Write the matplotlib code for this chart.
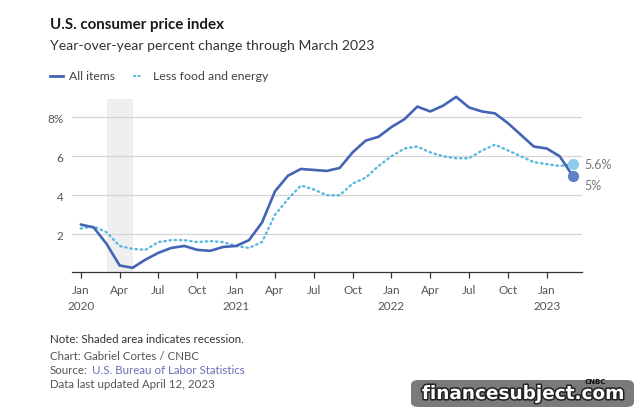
import matplotlib

matplotlib.use("Agg")

import matplotlib.pyplot as plt
from matplotlib.patches import FancyBboxPatch
import matplotlib.patheffects as pe

plt.rcParams["font.family"] = ["Lato", "DejaVu Sans"]

# monthly year-over-year change, Jan 2020 .. Mar 2023
all_items = [
    2.5, 2.35, 1.5, 0.4, 0.28, 0.7, 1.05, 1.3, 1.4, 1.2, 1.15, 1.35,
    1.4, 1.7, 2.6, 4.2, 5.0, 5.35, 5.3, 5.25, 5.4, 6.2, 6.8, 7.0,
    7.5, 7.9, 8.55, 8.3, 8.6, 9.05, 8.5, 8.3, 8.2, 7.7, 7.1, 6.5,
    6.4, 6.0, 5.0,
]
core = [
    2.3, 2.4, 2.1, 1.4, 1.25, 1.2, 1.6, 1.7, 1.7, 1.6, 1.65, 1.6,
    1.4, 1.3, 1.6, 3.0, 3.8, 4.5, 4.3, 4.0, 4.0, 4.6, 4.9, 5.5,
    6.0, 6.4, 6.5, 6.2, 6.0, 5.9, 5.9, 6.3, 6.6, 6.3, 6.0, 5.7,
    5.6, 5.5, 5.6,
]
months = list(range(len(all_items)))
tick_months = list(range(0, 37, 3))
tick_labels = [
    "Jan\n2020", "Apr", "Jul", "Oct",
    "Jan\n2021", "Apr", "Jul", "Oct",
    "Jan\n2022", "Apr", "Jul", "Oct",
    "Jan\n2023",
]
y_ticks = [2, 4, 6, 8]
y_labels = ["2", "4", "6", "8%"]
recession = (2, 4)

BLUE = "#4464b4"
LIGHT = "#5ab8de"
GREY_TXT = "#555555"

fig = plt.figure(figsize=(6.38, 4.14), dpi=100)
ax = fig.add_axes([0.1124, 0.3413, 0.7994, 0.4172])

ax.axvspan(*recession, color="#efefef", lw=0, zorder=0)
for y in y_ticks:
    ax.axhline(y, color="#d4d4d4", lw=0.9, zorder=1)

ax.plot(months, core, color=LIGHT, lw=1.7, ls=(0, (0.6, 1.6)),
        dash_capstyle="round", zorder=3, clip_on=False)
ax.plot(months, all_items, color=BLUE, lw=1.9, solid_joinstyle="round",
        solid_capstyle="round", zorder=4, clip_on=False)
ax.scatter([months[-1]], [core[-1]], s=50, color="#8fcbec", zorder=5, clip_on=False)
ax.scatter([months[-1]], [all_items[-1]], s=50, color="#6180c8", zorder=6, clip_on=False)
ax.text(months[-1] + 0.9, core[-1], f"{core[-1]:g}%", color="#777777",
        fontsize=9, va="center", ha="left")
ax.text(months[-1] + 0.9, all_items[-1] - 0.45, f"{all_items[-1]:g}%", color="#777777",
        fontsize=9, va="center", ha="left")

ax.set_xlim(-0.7, 38.7)
ax.set_ylim(0.08, 8.94)
ax.set_xticks(tick_months)
ax.set_xticklabels(tick_labels, fontsize=8.5, color=GREY_TXT, linespacing=1.55)
ax.set_yticks(y_ticks)
ax.set_yticklabels(y_labels, fontsize=8.5, color=GREY_TXT)
ax.tick_params(axis="x", length=4, width=0.9, color="#333333", pad=5)
ax.tick_params(axis="y", length=0, pad=6)
for side in ["top", "right", "left"]:
    ax.spines[side].set_visible(False)
ax.spines["bottom"].set_color("#333333")
ax.spines["bottom"].set_linewidth(0.9)

# titles and legend
fig.text(50 / 638, 1 - 25 / 414, "U.S. consumer price index", fontsize=10.9,
         fontweight="bold", color="#1a1a1a", va="center")
fig.text(50 / 638, 1 - 46 / 414, "Year-over-year percent change through March 2023",
         fontsize=10.1, color="#333333", va="center")
ly = 1 - 77 / 414
fig.lines.append(plt.Line2D([50 / 638, 63 / 638], [ly, ly], transform=fig.transFigure,
                            color=BLUE, lw=2.0))
fig.text(69 / 638, ly, "All items", fontsize=8.7, color="#444444", va="center")
fig.lines.append(plt.Line2D([134 / 638, 143 / 638], [ly, ly], transform=fig.transFigure,
                            color=LIGHT, lw=1.5, ls=(0, (0.6, 1.6)), dash_capstyle="round"))
fig.text(153 / 638, ly, "Less food and energy", fontsize=8.9, color="#444444", va="center")

# footnotes
fs = 8.3
fig.text(50 / 638, 1 - 340 / 414, "Note: Shaded area indicates recession.",
         fontsize=fs, color="#333333", va="center")
fig.text(50 / 638, 1 - 356 / 414, "Chart: Gabriel Cortes / CNBC",
         fontsize=fs, color=GREY_TXT, va="center")
fig.text(50 / 638, 1 - 371 / 414, "Source:", fontsize=fs, color=GREY_TXT, va="center")
fig.text(92 / 638, 1 - 371 / 414, "U.S. Bureau of Labor Statistics",
         fontsize=fs, color="#6b6fb5", va="center")
fig.text(50 / 638, 1 - 385 / 414, "Data last updated April 12, 2023",
         fontsize=fs, color=GREY_TXT, va="center")

# watermark
box = FancyBboxPatch((411 / 638, 1 - 408 / 414), 223 / 638, 27 / 414,
                     boxstyle="round,pad=0,rounding_size=0.012",
                     transform=fig.transFigure, facecolor="#7a7a7a", edgecolor="none")
fig.patches.append(box)
fig.text(523 / 638, 1 - 395 / 414, "financesubject.com", fontsize=13.3,
         fontweight="bold", color="white", ha="center", va="center",
         family=["DejaVu Sans"],
         path_effects=[pe.withStroke(linewidth=2.2, foreground="#222222")])
fig.text(595 / 638, 1 - 382 / 414, "CNBC", fontsize=5, fontweight="bold",
         color="#111111", ha="center", va="center", family=["DejaVu Sans"])

fig.savefig("out.png", dpi=100, facecolor="white")
